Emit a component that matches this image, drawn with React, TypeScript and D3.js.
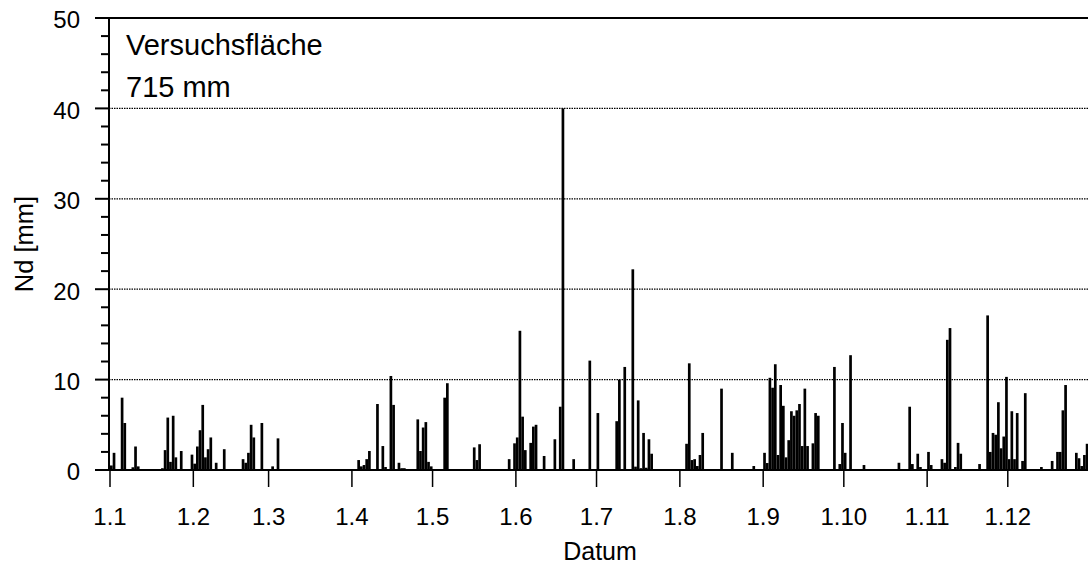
import React from "react";
import * as d3 from "d3";

// Day-of-year index (0 = 1 Jan) and daily precipitation [mm]
const rainDays: number[] = [
  0, 1, 4, 5, 8, 9, 10, 19, 20, 21, 22, 23, 24, 26, 30, 31, 32, 33, 34, 35, 36, 37, 39, 42,
  49, 50, 51, 52, 53, 56, 60, 62,
  92, 93, 94, 95, 96, 99, 101, 102, 104, 105, 107, 108, 109, 114, 115, 116, 117, 118, 119,
  123, 124, 125, 135, 136, 137, 148, 150, 151, 152, 153, 154, 156, 157, 158, 161, 165, 167,
  168, 172, 178, 181, 188, 189, 191, 194, 195, 196, 197, 198, 199, 200, 201,
  214, 215, 216, 217, 218, 219, 220, 227, 231, 239, 243, 244, 245, 246, 247, 248, 249, 250,
  251, 252, 253, 254, 255, 256, 257, 258, 259, 261, 262, 263, 269, 271, 272, 273, 275, 279,
  280, 293, 297, 298, 300, 301, 304, 305, 309, 310, 311, 312, 314, 315, 316, 320, 323, 326,
  327, 328, 329, 330, 331, 332, 333, 334, 335, 336, 337, 339, 340, 346, 350, 351, 352, 353,
  354, 355, 359, 360, 361, 362, 363,
];
const rainValues: number[] = [
  0.5, 1.9, 8.0, 5.2, 0.3, 2.6, 0.4, 0.2, 2.2, 5.8, 0.9, 6.0, 1.4, 2.1, 1.7, 0.7, 2.6, 4.4, 7.2, 1.4, 2.3, 3.6, 0.8, 2.3,
  1.2, 0.8, 1.9, 5.0, 3.6, 5.2, 0.4, 3.5,
  1.1, 0.4, 0.55, 1.2, 2.1, 7.3, 2.65, 0.33, 10.4, 7.2, 0.8, 0.2, 0.2, 5.6, 2.1, 4.7, 5.3, 0.9, 0.4,
  0.1, 8.0, 9.6, 2.5, 1.1, 2.85, 1.2, 2.95, 3.6, 15.4, 5.9, 2.2, 3.0, 4.8, 5.0, 1.55, 3.4, 7.0,
  40.0, 1.2, 12.1, 6.3, 5.4, 10.0, 11.4, 22.2, 0.37, 7.7, 0.2, 4.1, 0.25, 3.4, 1.8,
  2.9, 11.8, 1.1, 1.2, 0.44, 1.66, 4.1, 9.0, 1.9, 0.44, 1.9, 0.77, 10.2, 9.1, 11.7, 1.66, 9.4, 7.1,
  1.4, 3.3, 6.5, 6.0, 6.6, 7.3, 2.65, 9.0, 2.65, 2.95, 6.3, 6.0, 11.4, 0.66, 5.2, 1.9, 12.7, 0.1,
  0.55, 0.8, 7.0, 0.66, 1.8, 0.33, 2.0, 0.55, 1.2, 0.8, 14.4, 15.7, 0.33, 3.0, 1.8, 0.1, 0.66, 17.1,
  2.0, 4.1, 3.9, 7.5, 2.4, 3.7, 10.3, 1.2, 6.5, 1.2, 6.3, 1.0, 8.5, 0.33, 1.0, 0.1, 2.0, 2.0,
  6.6, 9.4, 1.9, 1.3, 0.44, 1.66, 2.9,
];

const monthTickDays: number[] = [0, 31, 59, 90, 120, 151, 181, 212, 243, 273, 304, 334];
const monthTickLabels: string[] = ["1.1", "1.2", "1.3", "1.4", "1.5", "1.6", "1.7", "1.8", "1.9", "1.10", "1.11", "1.12"];
const yMajorTicks: number[] = [0, 10, 20, 30, 40, 50];
const yGridTicks: number[] = [10, 20, 30, 40];
const yMinorTicks: number[] = d3.range(0, 51, 2).filter((v) => v % 10 !== 0);

const W = 1088;
const H = 565;
const FONT = "'Liberation Sans', Arial, Helvetica, sans-serif";

export default function App() {
  const x = d3.scaleLinear().domain([0, 365]).range([110, 110 + 365 * 2.688]);
  const y = d3.scaleLinear().domain([0, 50]).range([470, 18]);
  const left = x(0) - 1;
  const right = W;

  const bars = rainDays.map((d, i) => ({ d, v: rainValues[i] }));

  return (
    <>
      <style>{`body{margin:0}`}</style>
      <svg width={W} height={H} style={{ display: "block", background: "#fff" }} fontFamily={FONT}>
        {/* gridlines */}
        {yGridTicks.map((t) => (
          <line key={"g" + t} x1={left} x2={right} y1={y(t)} y2={y(t)} stroke="#000" strokeWidth={1.3} strokeDasharray="1.5 1" />
        ))}
        {/* bars */}
        {bars.map((b) => (
          <rect key={"b" + b.d} x={x(b.d)} y={y(b.v)} width={x(b.d + 1) - x(b.d)} height={y(0) - y(b.v)} fill="#000" />
        ))}
        {/* top frame */}
        <line x1={left} x2={right} y1={y(50)} y2={y(50)} stroke="#000" strokeWidth={2} />
        {/* y axis */}
        <line x1={left} x2={left} y1={y(50) - 1} y2={y(0)} stroke="#000" strokeWidth={2} />
        {yMajorTicks.map((t) => (
          <g key={"ym" + t}>
            <line x1={left - 14} x2={left} y1={y(t)} y2={y(t)} stroke="#000" strokeWidth={2} />
            <text x={80} y={y(t) + 4} textAnchor="end" dominantBaseline="middle" fontSize={24}>{t}</text>
          </g>
        ))}
        {yMinorTicks.map((t) => (
          <line key={"yn" + t} x1={left - 8} x2={left} y1={y(t)} y2={y(t)} stroke="#000" strokeWidth={2} />
        ))}
        {/* x axis */}
        <line x1={left - 14} x2={right} y1={y(0)} y2={y(0)} stroke="#000" strokeWidth={2} />
        {monthTickDays.map((d, i) => (
          <g key={"xt" + d}>
            <line x1={x(d)} x2={x(d)} y1={y(0)} y2={y(0) + 17} stroke="#000" strokeWidth={1.5} />
            <text x={x(d)} y={525} textAnchor="middle" fontSize={24}>{monthTickLabels[i]}</text>
          </g>
        ))}
        {/* axis titles */}
        <text x={600} y={560} textAnchor="middle" fontSize={25}>Datum</text>
        <text transform={`translate(33,244) rotate(-90)`} textAnchor="middle" fontSize={25.5}>Nd [mm]</text>
        {/* annotation */}
        <text x={126} y={55} fontSize={29}>Versuchsfläche</text>
        <text x={126} y={97} fontSize={29}>715 mm</text>
      </svg>
    </>
  );
}
